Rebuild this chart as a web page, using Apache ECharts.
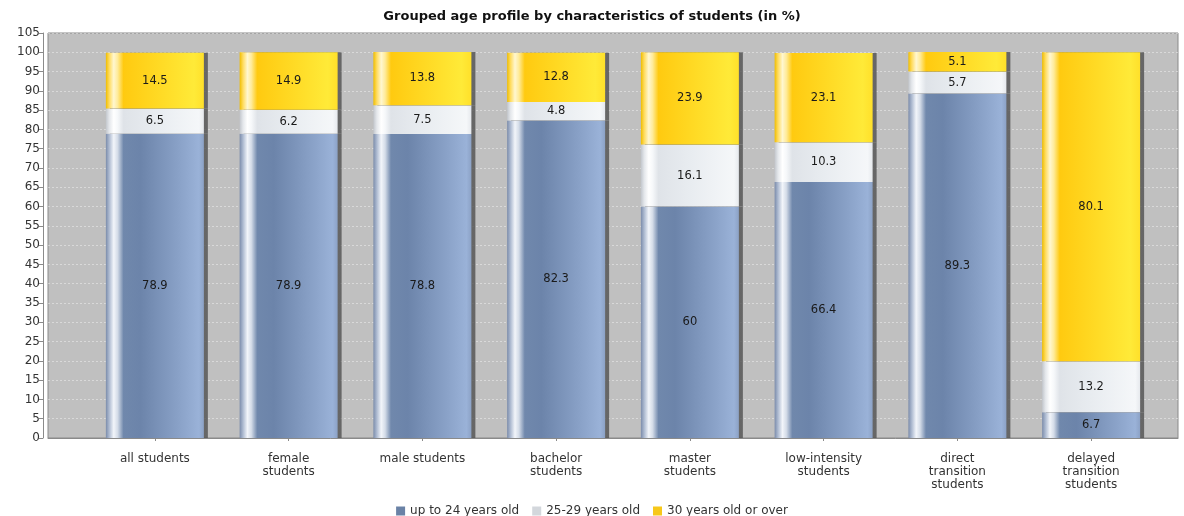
<!DOCTYPE html>
<html>
<head>
<meta charset="utf-8">
<script src="https://cdn.jsdelivr.net/npm/echarts@6/dist/echarts.min.js"></script>
<style>
html,body{margin:0;padding:0;background:#fff;}
#chart{width:1184px;height:516px;}
</style>
</head>
<body>
<div id="chart"></div>
<script>
const categories = ['all students', 'female\nstudents', 'male students', 'bachelor\nstudents', 'master\nstudents', 'low-intensity\nstudents', 'direct\ntransition\nstudents', 'delayed\ntransition\nstudents'];
const seriesNames = ['up to 24 years old', '25-29 years old', '30 years old or over'];
const upTo24 = [78.9, 78.9, 78.8, 82.3, 60, 66.4, 89.3, 6.7];
const age25to29 = [6.5, 6.2, 7.5, 4.8, 16.1, 10.3, 5.7, 13.2];
const age30plus = [14.5, 14.9, 13.8, 12.8, 23.9, 23.1, 5.1, 80.1];
const yMin = 0, yMax = 105, yStep = 5;

function grad(stops) {
  return new echarts.graphic.LinearGradient(0, 0, 1, 0, stops.map(s => ({offset: s[0], color: s[1]})));
}
const blueGrad = grad([[0, '#7b8cab'], [0.035, '#aebbd1'], [0.08, '#f2f5fa'], [0.12, '#d4dce8'], [0.18, '#7088ac'], [0.35, '#6c84aa'], [0.75, '#8aa2c8'], [0.95, '#9ab2d8'], [1, '#8ca2c6']]);
const whiteGrad = grad([[0, '#c2c6cc'], [0.035, '#e4e7eb'], [0.08, '#ffffff'], [0.12, '#f6f8fa'], [0.18, '#dfe3e8'], [0.5, '#e8ecf0'], [0.95, '#f5f7f9'], [1, '#e6e9ed']]);
const yellowGrad = grad([[0, '#efbd00'], [0.035, '#ffdc60'], [0.08, '#fff7d0'], [0.12, '#ffeb9a'], [0.18, '#ffca10'], [0.5, '#ffd822'], [0.9, '#ffea38'], [1, '#ffe02a']]);
const legendColors = ['#6a82a6', '#d3d7dc', '#f7c81a'];

const labelStyle = {show: true, position: 'inside', color: '#1a1a1a', fontSize: 11.5, fontFamily: 'DejaVu Sans', formatter: p => String(p.value)};
const shadow = {shadowColor: 'rgba(80,80,80,0.8)', shadowBlur: 0, shadowOffsetX: 4, shadowOffsetY: 0};

const chart = echarts.init(document.getElementById('chart'));
chart.setOption({
  animation: false,
  title: {
    text: 'Grouped age profile by characteristics of students (in %)',
    left: 'center', top: 5,
    textStyle: {fontFamily: 'DejaVu Sans', fontWeight: 'bold', fontSize: 13, color: '#111'}
  },
  legend: {
    top: 500, left: 'center',
    itemWidth: 9, itemHeight: 9, itemGap: 13,
    textStyle: {fontFamily: 'DejaVu Sans', fontSize: 12, color: '#333'},
    data: seriesNames.map((n, i) => ({name: n, icon: 'rect', itemStyle: {color: legendColors[i], shadowBlur: 0, shadowOffsetX: 0, shadowColor: 'transparent'}}))
  },
  grid: [
    {left: 48, right: 6, top: 33, bottom: 78, show: true, backgroundColor: '#c0c0c0', borderColor: '#8a8a8a', borderWidth: 1},
    {left: 88, right: 26, top: 33, bottom: 78}
  ],
  xAxis: [
    {gridIndex: 0, type: 'category', data: [''], offset: 5,
     axisLine: {show: true, lineStyle: {color: '#8a8a8a'}}, axisTick: {show: false}, axisLabel: {show: false}, splitLine: {show: false}},
    {gridIndex: 1, type: 'category', data: categories, offset: 5,
     axisLine: {show: false}, axisTick: {show: true, alignWithLabel: true, length: 3, lineStyle: {color: '#8a8a8a'}},
     axisLabel: {interval: 0, margin: 9, color: '#333', fontSize: 12, fontFamily: 'DejaVu Sans', lineHeight: 13}}
  ],
  yAxis: [
    {gridIndex: 0, type: 'value', min: yMin, max: yMax, interval: yStep, offset: 5,
     axisLine: {show: true, lineStyle: {color: '#8a8a8a'}},
     axisTick: {show: true, length: 4, lineStyle: {color: '#8a8a8a'}},
     axisLabel: {margin: 3, color: '#333', fontSize: 12, fontFamily: 'DejaVu Sans'},
     splitLine: {show: true, lineStyle: {color: 'rgba(255,255,255,0.4)', type: [2, 2], width: 1}}},
    {gridIndex: 1, type: 'value', min: yMin, max: yMax, interval: yStep, show: false, splitLine: {show: false}}
  ],
  series: [
    {name: seriesNames[0], type: 'bar', stack: 'a', xAxisIndex: 1, yAxisIndex: 1, barWidth: 98, data: upTo24,
     itemStyle: Object.assign({color: blueGrad}, shadow), label: labelStyle},
    {name: seriesNames[1], type: 'bar', stack: 'a', xAxisIndex: 1, yAxisIndex: 1, barWidth: 98, data: age25to29,
     itemStyle: Object.assign({color: whiteGrad}, shadow), label: labelStyle},
    {name: seriesNames[2], type: 'bar', stack: 'a', xAxisIndex: 1, yAxisIndex: 1, barWidth: 98, data: age30plus,
     itemStyle: Object.assign({color: yellowGrad}, shadow), label: labelStyle}
  ]
});
</script>
</body>
</html>
